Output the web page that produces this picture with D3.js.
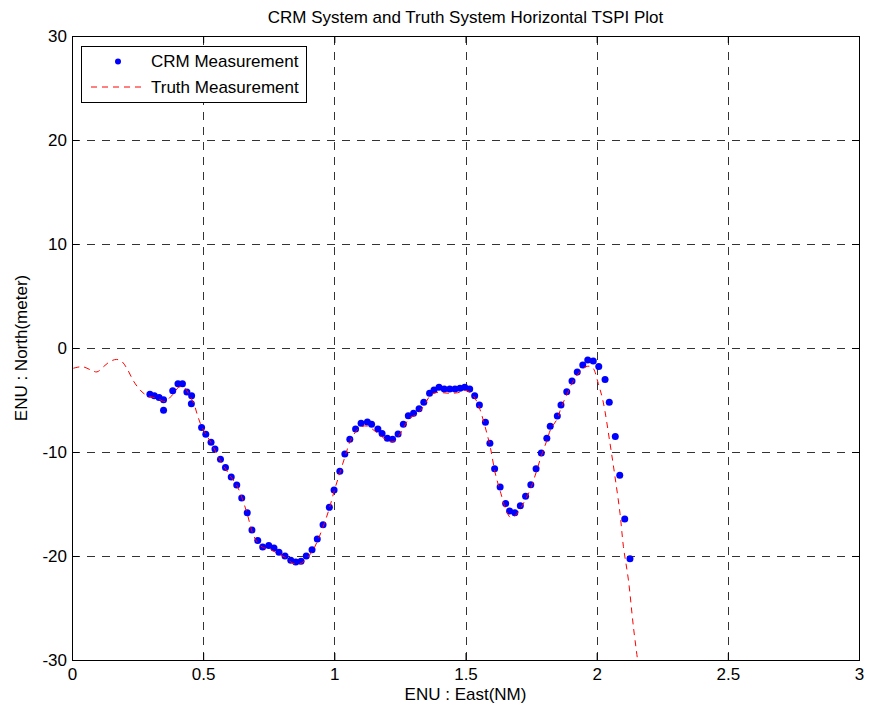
<!DOCTYPE html>
<html>
<head>
<meta charset="utf-8">
<script src="https://cdn.jsdelivr.net/npm/d3@7"></script>
<style>
  html, body { margin: 0; padding: 0; background: #fff; }
  svg { display: block; }
  text { font-family: "Liberation Sans", Arial, Helvetica, sans-serif; fill: #000; }
</style>
</head>
<body>
<svg id="chart" width="872" height="713"></svg>
<script>
// ---- data ----
const title = "CRM System and Truth System Horizontal TSPI Plot";
const xLabel = "ENU : East(NM)";
const yLabel = "ENU : North(meter)";
const seriesNames = ["CRM Measurement", "Truth Measurement"];
const xTicks = [0, 0.5, 1, 1.5, 2, 2.5, 3];
const yTicks = [-30, -20, -10, 0, 10, 20, 30];

// CRM measurement points [East NM, North m]
const crmEast = [0.297,0.314,0.332,0.349,0.349,0.384,0.404,0.421,0.438,0.456,0.455,0.494,0.510,0.530,0.545,0.566,0.585,0.607,0.628,0.647,0.668,0.686,0.708,0.727,0.750,0.770,0.789,0.812,0.834,0.853,0.873,0.893,0.915,0.935,0.957,0.981,0.999,1.021,1.040,1.059,1.081,1.102,1.126,1.142,1.166,1.182,1.202,1.222,1.243,1.263,1.282,1.302,1.323,1.341,1.363,1.380,1.399,1.419,1.440,1.460,1.479,1.497,1.516,1.535,1.553,1.576,1.593,1.611,1.632,1.653,1.668,1.688,1.709,1.729,1.749,1.769,1.789,1.810,1.823,1.850,1.864,1.886,1.906,1.926,1.947,1.966,1.987,2.008,2.032,2.048,2.071,2.088,2.107,2.127];
const crmNorth = [-4.45,-4.58,-4.77,-4.97,-5.99,-4.10,-3.43,-3.43,-4.23,-4.58,-5.35,-7.65,-8.30,-9.07,-9.70,-10.7,-11.5,-12.4,-13.17,-14.42,-15.83,-17.5,-18.5,-19.13,-19.0,-19.23,-19.65,-20.0,-20.4,-20.58,-20.51,-20.0,-19.39,-18.37,-16.99,-15.32,-13.65,-11.85,-10.2,-8.78,-7.79,-7.24,-7.12,-7.34,-7.79,-8.21,-8.68,-8.78,-8.27,-7.34,-6.51,-6.28,-5.83,-5.22,-4.36,-4.04,-3.78,-3.94,-3.94,-3.94,-3.88,-3.78,-3.95,-4.58,-5.48,-7.15,-9.17,-11.6,-13.37,-14.94,-15.67,-15.83,-15.16,-14.26,-13.14,-11.6,-10.1,-8.68,-7.53,-6.54,-5.48,-4.2,-3.17,-2.31,-1.63,-1.15,-1.25,-1.79,-3.04,-5.22,-8.52,-12.24,-16.44,-20.26];

// Truth measurement trajectory
const truthEast = [0.005,0.04,0.075,0.095,0.12,0.145,0.17,0.19,0.21,0.235,0.255,0.275,0.295,0.325,0.355,0.37,0.39,0.405,0.425,0.445,0.465,0.48,0.495,0.53,0.565,0.6,0.63,0.665,0.69,0.71,0.73,0.75,0.78,0.81,0.835,0.855,0.875,0.895,0.915,0.935,0.957,0.98,1.0,1.02,1.04,1.06,1.08,1.1,1.125,1.145,1.165,1.185,1.205,1.225,1.245,1.265,1.285,1.305,1.325,1.345,1.365,1.385,1.41,1.44,1.47,1.5,1.52,1.54,1.555,1.575,1.595,1.613,1.635,1.655,1.672,1.69,1.71,1.73,1.75,1.77,1.79,1.81,1.825,1.85,1.865,1.886,1.906,1.926,1.947,1.966,1.985,2.006,2.025,2.051,2.07,2.089,2.102,2.121,2.14,2.156];
const truthNorth = [-1.95,-1.8,-2.15,-2.3,-1.8,-1.3,-1.1,-1.3,-2.0,-3.2,-3.9,-4.4,-4.65,-4.85,-5.15,-4.85,-4.3,-3.8,-3.75,-4.4,-5.4,-6.6,-7.6,-9.1,-10.8,-12.2,-13.3,-15.7,-17.9,-18.8,-19.2,-19.3,-19.7,-20.1,-20.6,-20.8,-20.7,-20.2,-19.6,-18.6,-17.2,-15.5,-13.7,-12.1,-10.5,-9.0,-8.1,-7.6,-7.5,-7.8,-8.2,-8.6,-8.95,-9.0,-8.5,-7.6,-6.8,-6.5,-6.1,-5.4,-4.6,-4.3,-4.3,-4.35,-4.3,-4.1,-4.3,-5.0,-5.9,-7.6,-9.6,-12.0,-14.0,-15.6,-16.3,-16.1,-15.4,-14.5,-13.4,-11.9,-10.3,-8.9,-7.8,-6.8,-5.7,-4.5,-3.4,-2.6,-2.0,-1.75,-1.9,-3.4,-5.2,-9.2,-12.4,-15.9,-19.1,-22.3,-26.8,-30];

// ---- layout ----
const svg = d3.select("#chart");
const L = 72, R = 859, T = 36, B = 660;
const x = d3.scaleLinear().domain([0, 3]).range([L, R]);
const y = d3.scaleLinear().domain([-30, 30]).range([B, T]);

// grid
const grid = svg.append("g").attr("stroke", "#333").attr("stroke-width", 1).attr("stroke-dasharray", "8,7");
grid.selectAll("line.v").data(xTicks).join("line").attr("class","v")
  .attr("x1", d => Math.round(x(d)) + 0.5).attr("x2", d => Math.round(x(d)) + 0.5)
  .attr("y1", B).attr("y2", T);
grid.selectAll("line.h").data(yTicks).join("line").attr("class","h")
  .attr("y1", d => Math.round(y(d)) + 0.5).attr("y2", d => Math.round(y(d)) + 0.5)
  .attr("x1", L).attr("x2", R);

// axes (MATLAB style: inward ticks on all sides)
const tickLen = 7;
const fmt = d => String(d);
const axB = d3.axisBottom(x).tickValues(xTicks).tickSizeInner(-tickLen).tickSizeOuter(0).tickPadding(8).tickFormat(fmt);
const axT = d3.axisTop(x).tickValues(xTicks).tickSizeInner(-tickLen).tickSizeOuter(0).tickFormat("");
const axLft = d3.axisLeft(y).tickValues(yTicks).tickSizeInner(-tickLen).tickSizeOuter(0).tickPadding(5).tickFormat(fmt);
const axRt = d3.axisRight(y).tickValues(yTicks).tickSizeInner(-tickLen).tickSizeOuter(0).tickFormat("");

function styleAxis(g) {
  g.select(".domain").remove();
  g.selectAll(".tick line").attr("stroke", "#000");
  g.selectAll("text").attr("font-size", 17).attr("font-family", "'Liberation Sans', Arial, sans-serif").attr("fill", "#000");
}
svg.append("g").attr("transform", `translate(0,${B})`).call(axB).call(styleAxis);
svg.append("g").attr("transform", `translate(0,${T})`).call(axT).call(styleAxis);
svg.append("g").attr("transform", `translate(${L},0)`).call(axLft).call(styleAxis);
svg.append("g").attr("transform", `translate(${R},0)`).call(axRt).call(styleAxis);

// frame
svg.append("rect").attr("x", L + 0.5).attr("y", T + 0.5).attr("width", R - L).attr("height", B - T)
  .attr("fill", "none").attr("stroke", "#000").attr("stroke-width", 1);

// clip
svg.append("clipPath").attr("id", "plotclip").append("rect")
  .attr("x", L).attr("y", T).attr("width", R - L + 1).attr("height", B - T + 1);

const plot = svg.append("g").attr("clip-path", "url(#plotclip)");

// CRM dots
const crm = crmEast.map((e, i) => [e, crmNorth[i]]);
plot.selectAll("circle.crm").data(crm).join("circle").attr("class", "crm")
  .attr("cx", d => x(d[0])).attr("cy", d => y(d[1])).attr("r", 3.5).attr("fill", "#0000ff");

// truth line
const truth = truthEast.map((e, i) => [e, truthNorth[i]]);
const line = d3.line().x(d => x(d[0])).y(d => y(d[1])).curve(d3.curveCatmullRom.alpha(0.5));
plot.append("path").datum(truth).attr("d", line)
  .attr("fill", "none").attr("stroke", "#ff0000").attr("stroke-width", 1).attr("stroke-dasharray", "6,5");

// title and axis labels
svg.append("text").attr("x", (L + R) / 2).attr("y", 23).attr("text-anchor", "middle")
  .attr("font-size", 17).text(title);
svg.append("text").attr("x", (L + R) / 2).attr("y", 700).attr("text-anchor", "middle")
  .attr("font-size", 17).text(xLabel);
svg.append("text").attr("transform", `translate(27,${(T + B) / 2}) rotate(-90)`).attr("text-anchor", "middle")
  .attr("font-size", 17).text(yLabel);

// legend
const lg = svg.append("g");
lg.append("rect").attr("x", 81.5).attr("y", 46.5).attr("width", 225).attr("height", 56)
  .attr("fill", "#fff").attr("stroke", "#000").attr("stroke-width", 1);
lg.append("circle").attr("cx", 118).attr("cy", 61.5).attr("r", 3).attr("fill", "#0000ff");
lg.append("line").attr("x1", 91).attr("x2", 146).attr("y1", 87).attr("y2", 87)
  .attr("stroke", "#ff0000").attr("stroke-width", 1).attr("stroke-dasharray", "6,5");
lg.append("text").attr("x", 151).attr("y", 67).attr("font-size", 17).text(seriesNames[0]);
lg.append("text").attr("x", 151).attr("y", 93).attr("font-size", 17).text(seriesNames[1]);
</script>
</body>
</html>
